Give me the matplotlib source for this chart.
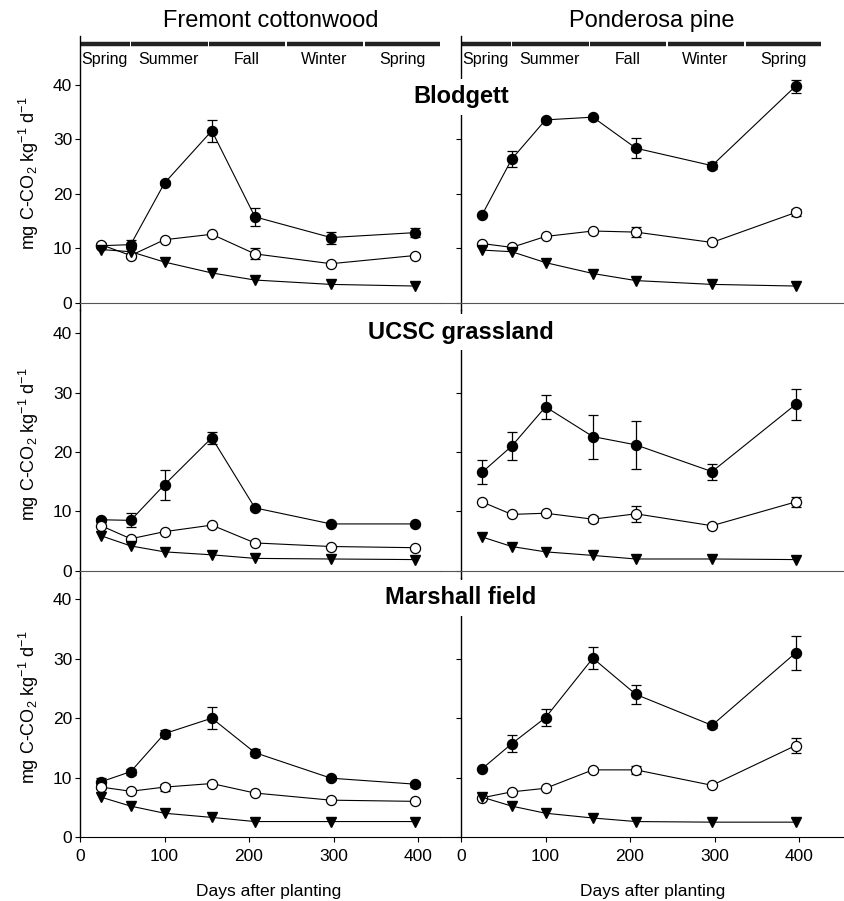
import matplotlib.pyplot as plt
import numpy as np

plt.rcParams['font.family'] = 'Liberation Sans'
plt.rcParams['mathtext.fontset'] = 'custom'
plt.rcParams['mathtext.rm'] = 'Liberation Sans'
plt.rcParams['mathtext.it'] = 'Liberation Sans:italic'

# sampling dates (days after planting)
days = [25, 60, 100, 156, 207, 297, 396]

species = ['Fremont cottonwood', 'Ponderosa pine']
sites = ['Blodgett', 'UCSC grassland', 'Marshall field']
seasons = ['Spring', 'Summer', 'Fall', 'Winter', 'Spring']
season_edges = [0, 60, 152, 244, 336, 427]
season_mid = [29, 105, 197, 289, 381]

# Fremont cottonwood
fc_blodgett_filled = [10.5, 10.7, 22.0, 31.6, 15.8, 12.0, 12.9]
fc_blodgett_filled_err = [0.3, 0.8, 0.4, 2.0, 1.6, 1.1, 0.8]
fc_blodgett_open = [10.7, 8.7, 11.6, 12.6, 9.0, 7.2, 8.7]
fc_blodgett_open_err = [0.3, 0.4, 0, 0, 1.0, 0, 0.3]
fc_blodgett_tri = [9.8, 9.4, 7.5, 5.5, 4.2, 3.4, 3.1]

fc_ucsc_filled = [8.6, 8.5, 14.5, 22.4, 10.6, 7.9, 7.9]
fc_ucsc_filled_err = [0.3, 1.2, 2.5, 1.0, 0.4, 0.2, 0.2]
fc_ucsc_open = [7.6, 5.4, 6.6, 7.7, 4.7, 4.1, 3.9]
fc_ucsc_open_err = [0, 0, 0, 0, 0, 0, 0]
fc_ucsc_tri = [5.9, 4.2, 3.2, 2.7, 2.1, 2.0, 1.9]

fc_marshall_filled = [9.3, 11.0, 17.4, 20.0, 14.2, 9.9, 8.9]
fc_marshall_filled_err = [0.6, 0.5, 0.6, 1.9, 0.6, 0.3, 0.4]
fc_marshall_open = [8.4, 7.7, 8.4, 9.0, 7.4, 6.2, 6.0]
fc_marshall_open_err = [0.3, 0, 0.6, 0.3, 0, 0, 0]
fc_marshall_tri = [6.7, 5.2, 4.0, 3.3, 2.6, 2.6, 2.6]

# Ponderosa pine
pp_blodgett_filled = [16.2, 26.4, 33.6, 34.1, 28.4, 25.2, 39.8]
pp_blodgett_filled_err = [0, 1.4, 0.3, 0.3, 1.8, 0.7, 1.2]
pp_blodgett_open = [10.9, 10.2, 12.2, 13.2, 13.0, 11.1, 16.6]
pp_blodgett_open_err = [0, 0, 0, 0, 0.9, 0, 0.7]
pp_blodgett_tri = [9.7, 9.4, 7.4, 5.4, 4.1, 3.4, 3.1]

pp_ucsc_filled = [16.6, 21.0, 27.6, 22.6, 21.2, 16.7, 28.0]
pp_ucsc_filled_err = [2.0, 2.4, 2.0, 3.7, 4.1, 1.35, 2.6]
pp_ucsc_open = [11.6, 9.5, 9.7, 8.7, 9.6, 7.6, 11.6]
pp_ucsc_open_err = [0, 0, 0, 0.5, 1.3, 0, 0.9]
pp_ucsc_tri = [5.7, 4.1, 3.2, 2.6, 2.0, 2.0, 1.9]

pp_marshall_filled = [11.5, 15.7, 20.1, 30.1, 24.0, 18.8, 31.0]
pp_marshall_filled_err = [0, 1.4, 1.4, 1.9, 1.6, 0.4, 2.9]
pp_marshall_open = [6.6, 7.6, 8.2, 11.3, 11.3, 8.7, 15.4]
pp_marshall_open_err = [0, 0, 0, 0.3, 0.7, 0, 1.2]
pp_marshall_tri = [6.7, 5.2, 4.0, 3.2, 2.6, 2.5, 2.5]

panels = [
    [(fc_blodgett_filled, fc_blodgett_filled_err, fc_blodgett_open, fc_blodgett_open_err, fc_blodgett_tri),
     (pp_blodgett_filled, pp_blodgett_filled_err, pp_blodgett_open, pp_blodgett_open_err, pp_blodgett_tri)],
    [(fc_ucsc_filled, fc_ucsc_filled_err, fc_ucsc_open, fc_ucsc_open_err, fc_ucsc_tri),
     (pp_ucsc_filled, pp_ucsc_filled_err, pp_ucsc_open, pp_ucsc_open_err, pp_ucsc_tri)],
    [(fc_marshall_filled, fc_marshall_filled_err, fc_marshall_open, fc_marshall_open_err, fc_marshall_tri),
     (pp_marshall_filled, pp_marshall_filled_err, pp_marshall_open, pp_marshall_open_err, pp_marshall_tri)],
]

W, H = 845, 901
fig = plt.figure(figsize=(W / 100, H / 100), dpi=100)

# layout in pixels
row_px = [(36, 310), (310, 578), (578, 837)]
col_px = [(80, 440), (440, 845)]
xlims = [(0, 426), (-24.9, 454.4)]
ylims = [(-1.3, 49), (-1.2, 43.9), (0, 43.6)]


def draw(ax, filled, filled_err, open_, open_err, tri):
    x = np.array(days)
    for y, e, fill in [(filled, filled_err, 'black'), (open_, open_err, 'white')]:
        y = np.array(y)
        e = np.array(e)
        m = e > 0
        ax.errorbar(x[m], y[m], yerr=e[m], fmt='none', ecolor='black',
                    elinewidth=0.9, capsize=3.5, capthick=0.9, zorder=2)
        ax.plot(x, y, '-o', color='black', lw=0.8, ms=7.3, mfc=fill,
                mec='black', mew=0.9, zorder=3)
    ax.plot(x, tri, '-v', color='black', lw=0.8, ms=7, zorder=4)


for r in range(3):
    for c in range(2):
        top, bot = row_px[r]
        lft, rgt = col_px[c]
        ax = fig.add_axes([lft / W, 1 - bot / H, (rgt - lft) / W, (bot - top) / H])
        ax.patch.set_alpha(0)
        ax.set_xlim(xlims[c])
        ax.set_ylim(ylims[r])
        ax.spines['top'].set_visible(False)
        ax.spines['right'].set_visible(False)
        ax.spines['left'].set_position(('data', 0))
        ax.spines['left'].set_linewidth(1.0)
        ax.set_yticks([0, 10, 20, 30, 40])
        ax.tick_params(axis='y', direction='out', length=3.6, width=0.8, pad=2, labelsize=12.5)
        if r < 2:
            ax.spines['bottom'].set_position(('data', 0))
            ax.spines['bottom'].set_color('#555555')
            ax.spines['bottom'].set_linewidth(0.8)
            ax.tick_params(axis='x', bottom=False, labelbottom=False)
        else:
            ax.set_xticks([0, 100, 200, 300, 400])
            ax.tick_params(axis='x', direction='out', length=3.6, width=0.8, pad=5, labelsize=12.5)
            ax.set_xlabel('Days after planting', fontsize=12.5)
            ax.xaxis.set_label_coords(0.525, -0.18)
        if c == 1:
            ax.tick_params(axis='y', labelleft=False)
        else:
            ax.set_ylabel('mg C-CO$_2$ kg$^{-1}$ d$^{-1}$', fontsize=13)
            ax.yaxis.set_label_coords(-0.108, 0.5)

        draw(ax, *panels[r][c])

        # season header
        if r == 0:
            for i in range(5):
                a = season_edges[i] + (0.9 if i else 0)
                b = season_edges[i + 1] - 0.9
                ax.plot([a, b], [47.5, 47.5], color='#222222', lw=3.2,
                        solid_capstyle='butt', clip_on=False)
                ax.text(season_mid[i], 44.6, seasons[i], ha='center', va='center', fontsize=11.5)

# column titles
fig.text(271 / W, 1 - 21 / H, species[0], ha='center', va='center', fontsize=17)
fig.text(652 / W, 1 - 21 / H, species[1], ha='center', va='center', fontsize=17)

# site titles
for name, yc in zip(sites, [97, 332, 598]):
    fig.text(461 / W, 1 - yc / H, name, ha='center', va='center', fontsize=17,
             fontweight='bold', bbox=dict(facecolor='white', edgecolor='none', pad=5))

fig.savefig('out.png', dpi=100)
